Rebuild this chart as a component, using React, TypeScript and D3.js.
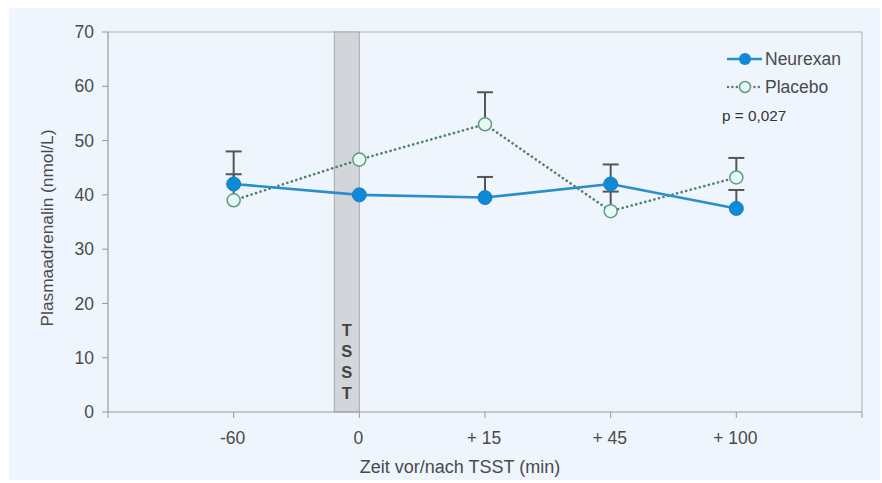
import React from "react";
import * as d3 from "d3";

const categories = ["-60", "0", "+ 15", "+ 45", "+ 100"];
const neurexan = [42, 40, 39.5, 42, 37.5];
const neurexanErr = [1.8, 0, 3.8, 3.6, 3.4];
const placebo = [39, 46.5, 53, 37, 43.2];
const placeboErr = [9, 0, 5.9, 3.6, 3.6];
const yTicks = [0, 10, 20, 30, 40, 50, 60, 70];

const W = 882, H = 483;
const M = { left: 108, right: 862, top: 32, bottom: 412 };

export default function App() {
  const x = d3.scaleLinear().domain([-1, 5]).range([M.left, M.right]);
  const y = d3.scaleLinear().domain([0, 70]).range([M.bottom, M.top]);
  const line = d3.line<number>().x((_, i) => x(i)).y((d) => y(d));
  const font = "Liberation Sans, Arial, sans-serif";
  const txt = "#4a4a4a";
  const blue = "#2a8ecb";
  const green = "#4f7f6f";
  const errColor = "#555";
  const capW = 8;
  const xTickPos = d3.range(-1, 6);
  const tsstX1 = x(1);
  const tsstX0 = tsstX1 - 25;

  const errBar = (vals: number[], errs: number[], key: string) =>
    vals.map((v, i) =>
      errs[i] > 0 ? (
        <g key={key + i} stroke={errColor} strokeWidth={2}>
          <line x1={x(i)} x2={x(i)} y1={y(v)} y2={y(v + errs[i])} />
          <line x1={x(i) - capW} x2={x(i) + capW} y1={y(v + errs[i])} y2={y(v + errs[i])} />
        </g>
      ) : null
    );

  return (
    <svg width={W} height={H} style={{ position: "absolute", left: 0, top: 0 }} fontFamily={font}>
      <rect x={0} y={0} width={W} height={H} fill="#ffffff" />
      <rect x={9} y={8} width={871} height={472} fill="#eef5fd" />
      {/* frame */}
      <line x1={M.left} x2={M.right} y1={M.top} y2={M.top} stroke="#b0b0b0" strokeWidth={1} />
      <line x1={M.right} x2={M.right} y1={M.top} y2={M.bottom} stroke="#b0b0b0" strokeWidth={1} />
      {/* TSST bar */}
      <rect x={tsstX0} y={M.top} width={tsstX1 - tsstX0} height={M.bottom - M.top} fill="#d2d5da" stroke="#a8a8a8" strokeWidth={1} />
      {["T", "S", "S", "T"].map((c, i) => (
        <text key={i} x={(tsstX0 + tsstX1) / 2} y={330 + i * 21} dy="0.35em" textAnchor="middle" fontSize={16.5} fontWeight="bold" fill="#444">
          {c}
        </text>
      ))}
      {/* y axis */}
      <line x1={M.left} x2={M.left} y1={M.top} y2={M.bottom} stroke="#999" strokeWidth={1.2} />
      {yTicks.map((t) => (
        <g key={t}>
          <line x1={M.left - 6} x2={M.left} y1={y(t)} y2={y(t)} stroke="#999" />
          <text x={M.left - 14} y={y(t)} dy="0.35em" textAnchor="end" fontSize={17.5} fill={txt}>
            {t}
          </text>
        </g>
      ))}
      {/* x axis */}
      <line x1={M.left} x2={M.right} y1={M.bottom} y2={M.bottom} stroke="#999" strokeWidth={1.2} />
      {xTickPos.map((t) => (
        <line key={t} x1={x(t)} x2={x(t)} y1={M.bottom} y2={M.bottom + 6} stroke="#999" />
      ))}
      {categories.map((c, i) => (
        <text key={c} x={x(i) - 1} y={438} dy="0.35em" textAnchor="middle" fontSize={17.5} fill={txt}>
          {c}
        </text>
      ))}
      <text x={460} y={467} dy="0.35em" textAnchor="middle" fontSize={18} fill={txt}>
        Zeit vor/nach TSST (min)
      </text>
      <text transform={`translate(47,${(M.top + M.bottom) / 2 + 6}) rotate(-90)`} dy="0.35em" textAnchor="middle" fontSize={17.3} fill={txt}>
        Plasmaadrenalin (nmol/L)
      </text>
      {/* error bars */}
      {errBar(placebo, placeboErr, "p")}
      {errBar(neurexan, neurexanErr, "n")}
      {/* lines */}
      <path d={line(placebo) || ""} fill="none" stroke={green} strokeWidth={2.6} strokeDasharray="0.1 4.6" strokeLinecap="round" />
      <path d={line(neurexan) || ""} fill="none" stroke={blue} strokeWidth={2.6} />
      {placebo.map((v, i) => (
        <circle key={"pc" + i} cx={x(i)} cy={y(v)} r={6.5} fill="#e6f9f3" stroke="#5f9c88" strokeWidth={1.5} />
      ))}
      {neurexan.map((v, i) => (
        <circle key={"nc" + i} cx={x(i)} cy={y(v)} r={7} fill="#0e8ad8" stroke="#1a7fc0" strokeWidth={1} />
      ))}
      {/* legend */}
      <line x1={727} x2={762} y1={59} y2={59} stroke={blue} strokeWidth={2.6} />
      <circle cx={745} cy={59} r={6} fill="#0e8ad8" />
      <text x={765} y={59} dy="0.35em" fontSize={17.5} fill={txt}>Neurexan</text>
      <line x1={728} x2={761} y1={87} y2={87} stroke={green} strokeWidth={2.4} strokeDasharray="0.1 4.3" strokeLinecap="round" />
      <circle cx={745} cy={87} r={5.5} fill="#e6f9f3" stroke="#5f9c88" strokeWidth={1.5} />
      <text x={765} y={87} dy="0.35em" fontSize={17.5} fill={txt}>Placebo</text>
      <text x={722} y={116} dy="0.35em" fontSize={15.3} fill="#333">p = 0,027</text>
    </svg>
  );
}
